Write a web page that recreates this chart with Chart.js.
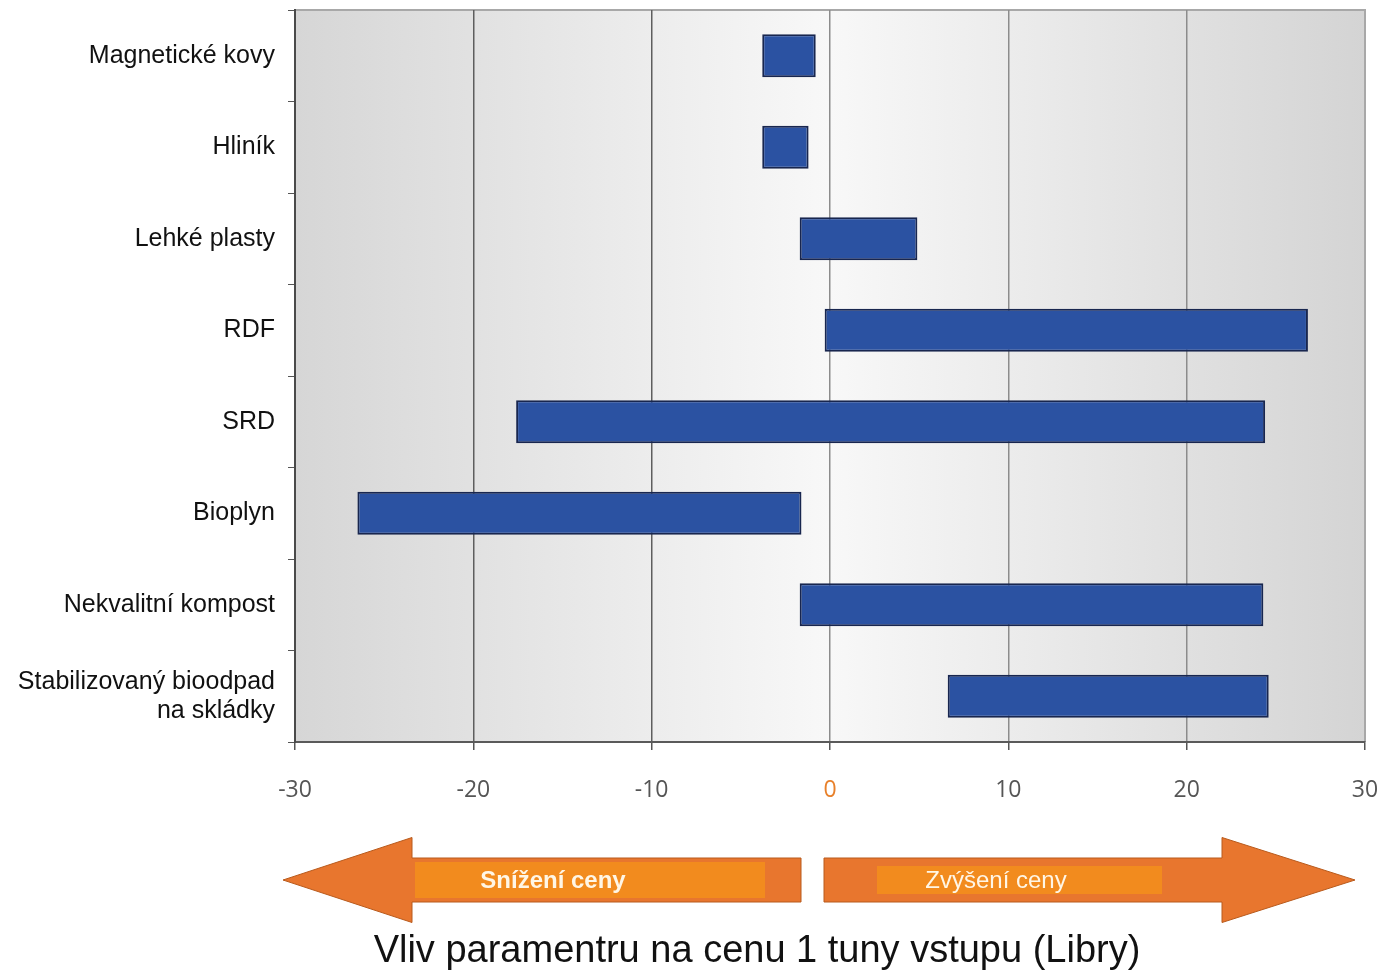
<!DOCTYPE html>
<html lang="cs">
<head>
<meta charset="utf-8">
<title>Vliv parametru na cenu 1 tuny vstupu</title>
<script src="https://cdn.jsdelivr.net/npm/chart.js@4.4.1/dist/chart.umd.min.js"></script>
<style>
    html, body { margin: 0; padding: 0; background: #ffffff; }
    #wrap { width: 1383px; height: 974px; }
</style>
</head>
<body>
<div id="wrap"><canvas id="rangeChart" width="1383" height="974"></canvas></div>
<script>
// Materials and the price range (from / to) each one moves the input price by
const categories = [
    'Magnetické kovy',
    'Hliník',
    'Lehké plasty',
    'RDF',
    'SRD',
    'Bioplyn',
    'Nekvalitní kompost',
    ['Stabilizovaný bioodpad', 'na skládky']
];
const rangeFrom = [-3.8, -3.8, -1.7, -0.3, -17.6, -26.5, -1.7, 6.6];
const rangeTo   = [-0.8, -1.2,  4.9, 26.8,  24.4,  -1.6, 24.3, 24.6];
const xTicks = [-30, -20, -10, 0, 10, 20, 30];

const axisTitle = 'Vliv paramentru na cenu 1 tuny vstupu (Libry)';
const arrowLeftText = 'Snížení ceny';
const arrowRightText = 'Zvýšení ceny';

const ranges = rangeFrom.map((v, i) => [v, rangeTo[i]]);

// Grey-white-grey backdrop behind the plot plus the thin top/right frame
const plotBackground = {
    id: 'plotBackground',
    beforeDraw(chart) {
        const { ctx, chartArea: a } = chart;
        const g = ctx.createLinearGradient(a.left, 0, a.right, 0);
        g.addColorStop(0, '#d6d6d6');
        g.addColorStop(0.5, '#f8f8f8');
        g.addColorStop(1, '#d4d4d4');
        ctx.save();
        ctx.fillStyle = g;
        ctx.fillRect(a.left, a.top, a.right - a.left, a.bottom - a.top);
        ctx.strokeStyle = '#a8a8a8';
        ctx.lineWidth = 2;
        ctx.beginPath();
        ctx.moveTo(a.left, a.top);
        ctx.lineTo(a.right, a.top);
        ctx.lineTo(a.right, a.bottom);
        ctx.stroke();
        ctx.restore();
    }
};

function drawArrow(ctx, tipX, baseX, tailX, cy, bodyH, headH) {
    ctx.beginPath();
    ctx.moveTo(tipX, cy);
    ctx.lineTo(baseX, cy - headH / 2);
    ctx.lineTo(baseX, cy - bodyH / 2);
    ctx.lineTo(tailX, cy - bodyH / 2);
    ctx.lineTo(tailX, cy + bodyH / 2);
    ctx.lineTo(baseX, cy + bodyH / 2);
    ctx.lineTo(baseX, cy + headH / 2);
    ctx.closePath();
    ctx.fill();
    ctx.stroke();
}

// Orange direction arrows and the axis caption under the chart
const priceArrows = {
    id: 'priceArrows',
    afterDraw(chart) {
        const ctx = chart.ctx;
        const cy = 880;
        ctx.save();
        ctx.fillStyle = '#e8762e';
        ctx.strokeStyle = '#b85a1c';
        ctx.lineWidth = 1;
        drawArrow(ctx, 283, 412, 801, cy, 44, 85);
        drawArrow(ctx, 1355, 1222, 824, cy, 44, 85);

        // lighter band inside each arrow body
        ctx.fillStyle = '#f28b1e';
        ctx.fillRect(415, cy - 18, 350, 36);
        ctx.fillRect(877, cy - 14, 285, 28);

        ctx.textAlign = 'center';
        ctx.textBaseline = 'middle';
        ctx.fillStyle = '#fff6e6';
        ctx.font = 'bold 24px "Liberation Sans", Arial, sans-serif';
        ctx.fillText(arrowLeftText, 553, cy + 1);
        ctx.font = '24px "Liberation Sans", Arial, sans-serif';
        ctx.fillText(arrowRightText, 996, cy + 1);

        ctx.fillStyle = '#111111';
        ctx.font = '38px "Liberation Sans", Arial, sans-serif';
        ctx.fillText(axisTitle, 757, 952);
        ctx.restore();
    }
};

new Chart(document.getElementById('rangeChart'), {
    type: 'bar',
    data: {
        labels: categories,
        datasets: [{
            data: ranges,
            backgroundColor: '#2b52a2',
            borderColor: '#18264f',
            borderWidth: 2,
            borderSkipped: false,
            barPercentage: 0.47,
            categoryPercentage: 1
        }]
    },
    options: {
        indexAxis: 'y',
        responsive: false,
        animation: false,
        layout: { padding: { top: 10, right: 18, left: 0, bottom: 0 } },
        plugins: {
            legend: { display: false },
            tooltip: { enabled: false }
        },
        scales: {
            x: {
                min: -30,
                max: 30,
                afterBuildTicks(scale) {
                    scale.ticks = xTicks.map(v => ({ value: v }));
                },
                afterFit(scale) {
                    scale.height = 232;
                    scale.paddingLeft = 0;
                    scale.paddingRight = 0;
                },
                border: { display: true, color: '#5a5a5a', width: 2 },
                grid: {
                    color(c) {
                        const v = c.tick ? c.tick.value : 0;
                        if (v === 30) return 'rgba(0,0,0,0)';
                        return v < 0 ? '#5e5e5e' : '#8c8c8c';
                    },
                    lineWidth: 1.5,
                    tickLength: 8,
                    tickColor: '#555555'
                },
                ticks: {
                    padding: 27,
                    font: { family: '"Open Sans", sans-serif', size: 23 },
                    color(c) { return c.tick.value === 0 ? '#e8802a' : '#555555'; }
                }
            },
            y: {
                afterFit(scale) {
                    scale.width = 295;
                    scale.paddingTop = 0;
                    scale.paddingBottom = 0;
                },
                border: { display: true, color: '#4a4a4a', width: 2 },
                grid: {
                    offset: true,
                    drawOnChartArea: false,
                    tickLength: 7,
                    tickColor: '#555555'
                },
                ticks: {
                    padding: 13,
                    font: { family: '"Liberation Sans", Arial, sans-serif', size: 25, lineHeight: 1.15 },
                    color: '#111111'
                }
            }
        }
    },
    plugins: [plotBackground, priceArrows]
});
</script>
</body>
</html>
